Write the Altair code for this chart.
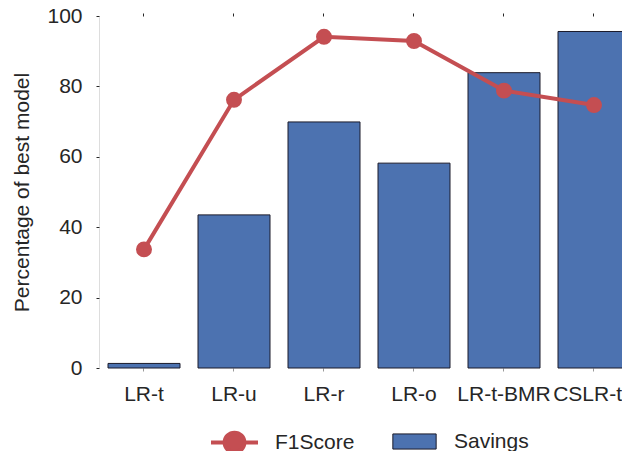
import altair as alt
import pandas as pd

categories = ["LR-t", "LR-u", "LR-r", "LR-o", "LR-t-BMR", "CSLR-t"]
savings = [1.3, 43.5, 69.9, 58.2, 83.9, 95.6]
f1score = [33.7, 76.2, 94.1, 92.9, 78.8, 74.7]
y_ticks = [0, 20, 40, 60, 80, 100]
line_label = "F1Score"
bar_label = "Savings"
y_title = "Percentage of best model"

BLUE = "#4C72B0"
RED = "#C44E52"
TEXT = "#262626"
FONT = "Liberation Sans"

df = pd.DataFrame({
    "model": categories,
    "Savings": savings,
    "F1Score": f1score,
    "s_line": [line_label] * len(categories),
    "s_bar": [bar_label] * len(categories),
})

last_cat = categories[-1]
x_scale = alt.Scale(paddingInner=0.2, paddingOuter=0.05, align=1, range=[0, 531])
x_enc = alt.X(
    "model:N",
    sort=categories,
    title=None,
    scale=x_scale,
    axis=alt.Axis(labelAngle=0, labelFontSize=21, labelColor=TEXT, labelFont=FONT,
                  tickSize=3, tickColor="#999999", labelPadding=12, domain=False,
                  labelAlign={"condition": {"test": f"datum.value == '{last_cat}'", "value": "right"},
                              "value": "center"},
                  labelOffset={"condition": {"test": f"datum.value == '{last_cat}'", "value": 28},
                               "value": 0},
                  grid=True, gridColor="white", gridWidth=2),
)

y_scale = alt.Scale(domain=[0, 100], nice=False)
y_axis = alt.Axis(values=y_ticks, title=y_title, titleFontSize=21, titleFont=FONT,
                  titleColor=TEXT, titleFontWeight="normal", titlePadding=14,
                  labelFontSize=21, labelColor=TEXT, labelFont=FONT, labelPadding=14,
                  tickSize=3, tickColor=TEXT, domain=False,
                  grid=True, gridColor="white", gridWidth=2)

bars = alt.Chart(df).mark_bar(stroke="#1a1a2a", strokeWidth=1).encode(
    x=x_enc,
    y=alt.Y("Savings:Q", scale=y_scale, axis=y_axis),
    fill=alt.Fill("s_bar:N",
                  scale=alt.Scale(domain=[bar_label], range=[BLUE]),
                  legend=alt.Legend(
                      title=None, orient="none", legendX=293, legendY=403,
                      symbolType="M-1,-0.35L1,-0.35L1,0.35L-1,0.35Z",
                      symbolSize=1875, symbolStrokeColor="#1a1a2a",
                      symbolStrokeWidth=1, labelFontSize=21, labelFont=FONT,
                      labelColor=TEXT, labelOffset=17, padding=0)),
)

top_ticks = alt.Chart(df).mark_point(opacity=0).encode(
    x=alt.X("model:N", sort=categories, scale=x_scale,
            axis=alt.Axis(orient="top", labels=False, ticks=True, tickSize=3,
                          tickColor=TEXT, domain=False, grid=False, title=None)),
)

line = alt.Chart(df).mark_line(color=RED, strokeWidth=4).encode(
    x=alt.X("model:N", sort=categories, axis=None),
    y=alt.Y("F1Score:Q", scale=y_scale),
)

points = alt.Chart(df).mark_circle(size=254, opacity=1).encode(
    x=alt.X("model:N", sort=categories, axis=None),
    y=alt.Y("F1Score:Q", scale=y_scale),
    color=alt.Color("s_line:N",
                    scale=alt.Scale(domain=[line_label], range=[RED]),
                    legend=alt.Legend(
                        title=None, orient="none", legendX=110, legendY=401,
                        symbolType="M-1,0L-0.42,0M0.42,0L1,0M-0.42,0A0.42,0.42,0,1,0,0.42,0A0.42,0.42,0,1,0,-0.42,0Z",
                        symbolSize=2209, symbolStrokeColor=RED,
                        symbolStrokeWidth=4, labelFontSize=21, labelFont=FONT,
                        labelColor=TEXT, labelOffset=15, padding=0)),
)

chart = alt.layer(bars, top_ticks, line, points).resolve_axis(x="independent").properties(
    width=523,
    height=352,
    autosize=alt.AutoSizeParams(type="none"),
    padding={"left": 91, "top": 8, "right": 0, "bottom": 83},
    background="white",
).configure_view(
    fill="#EAEAF2", stroke=None
).configure(font=FONT)

chart.save("out.html", embed_options={"renderer": "svg", "actions": False})
